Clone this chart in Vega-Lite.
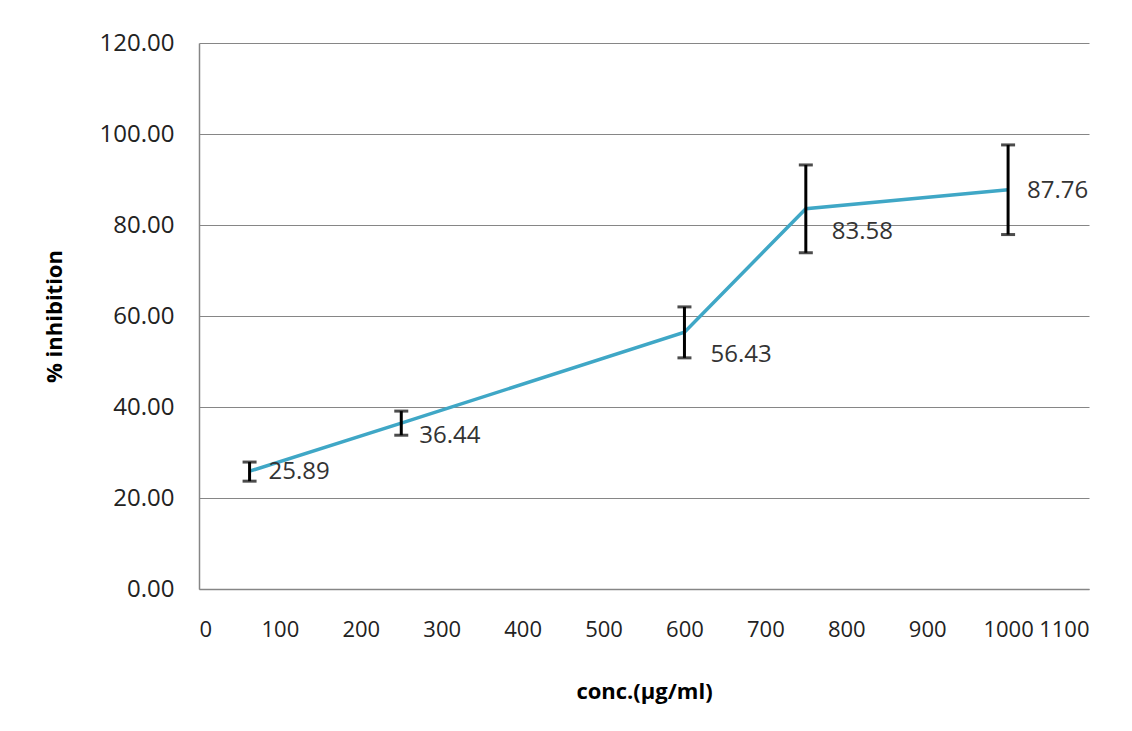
{
  "$schema": "https://vega.github.io/schema/vega-lite/v6.json",
  "width": 890,
  "height": 546,
  "autosize": {"type": "none"},
  "padding": {"left": 199, "top": 43, "right": 43, "bottom": 142},
  "background": "white",
  "config": {
    "font": "Open Sans",
    "view": {"stroke": null},
    "axis": {
      "labelFont": "Open Sans",
      "labelFontSize": 24,
      "labelColor": "#222222",
      "labelOverlap": false,
      "titleFont": "Open Sans",
      "titleFontSize": 22,
      "titleFontWeight": "bold",
      "titleColor": "#000000",
      "ticks": false,
      "domainColor": "#868686",
      "domainWidth": 1.5,
      "gridColor": "#868686",
      "gridWidth": 1
    }
  },
  "data": {
    "values": [
      {"conc": 62.5, "inh": 25.89, "lo": 23.7, "hi": 27.9, "grp": "a"},
      {"conc": 250, "inh": 36.44, "lo": 33.8, "hi": 39.1, "grp": "b"},
      {"conc": 600, "inh": 56.43, "lo": 50.8, "hi": 62.0, "grp": "c"},
      {"conc": 750, "inh": 83.58, "lo": 73.9, "hi": 93.2, "grp": "c"},
      {"conc": 1000, "inh": 87.76, "lo": 77.9, "hi": 97.6, "grp": "a"}
    ]
  },
  "encoding": {
    "x": {
      "field": "conc",
      "type": "quantitative",
      "scale": {"domain": [0, 1100], "nice": false},
      "axis": {
        "values": [0, 100, 200, 300, 400, 500, 600, 700, 800, 900, 1000, 1100],
        "format": "d",
        "grid": false,
        "labelFontSize": 22,
        "labelPadding": 30,
        "title": "conc.(µg/ml)",
        "titlePadding": 41
      }
    },
    "y": {
      "field": "inh",
      "type": "quantitative",
      "scale": {"domain": [0, 120], "nice": false},
      "axis": {
        "values": [0, 20, 40, 60, 80, 100, 120],
        "format": ".2f",
        "labelPadding": 25,
        "title": "% inhibition",
        "titlePadding": 33
      }
    }
  },
  "layer": [
    {
      "mark": {"type": "line", "color": "#3fa7c6", "strokeWidth": 3.5}
    },
    {
      "mark": {"type": "rule", "color": "#000000", "strokeWidth": 3},
      "encoding": {
        "y": {"field": "lo", "type": "quantitative"},
        "y2": {"field": "hi"}
      }
    },
    {
      "mark": {"type": "tick", "orient": "horizontal", "color": "#000000", "size": 14, "thickness": 3},
      "encoding": {"y": {"field": "lo", "type": "quantitative"}}
    },
    {
      "mark": {"type": "tick", "orient": "horizontal", "color": "#000000", "size": 14, "thickness": 3},
      "encoding": {"y": {"field": "hi", "type": "quantitative"}}
    },
    {
      "transform": [{"filter": "datum.grp === 'a'"}],
      "mark": {"type": "text", "align": "left", "baseline": "middle", "dx": 19, "dy": 1, "fontSize": 24, "color": "#333333"},
      "encoding": {"text": {"field": "inh", "type": "quantitative", "format": ".2f"}}
    },
    {
      "transform": [{"filter": "datum.grp === 'b'"}],
      "mark": {"type": "text", "align": "left", "baseline": "middle", "dx": 18, "dy": 13, "fontSize": 24, "color": "#333333"},
      "encoding": {"text": {"field": "inh", "type": "quantitative", "format": ".2f"}}
    },
    {
      "transform": [{"filter": "datum.grp === 'c'"}],
      "mark": {"type": "text", "align": "left", "baseline": "middle", "dx": 26, "dy": 23, "fontSize": 24, "color": "#333333"},
      "encoding": {"text": {"field": "inh", "type": "quantitative", "format": ".2f"}}
    }
  ]
}
